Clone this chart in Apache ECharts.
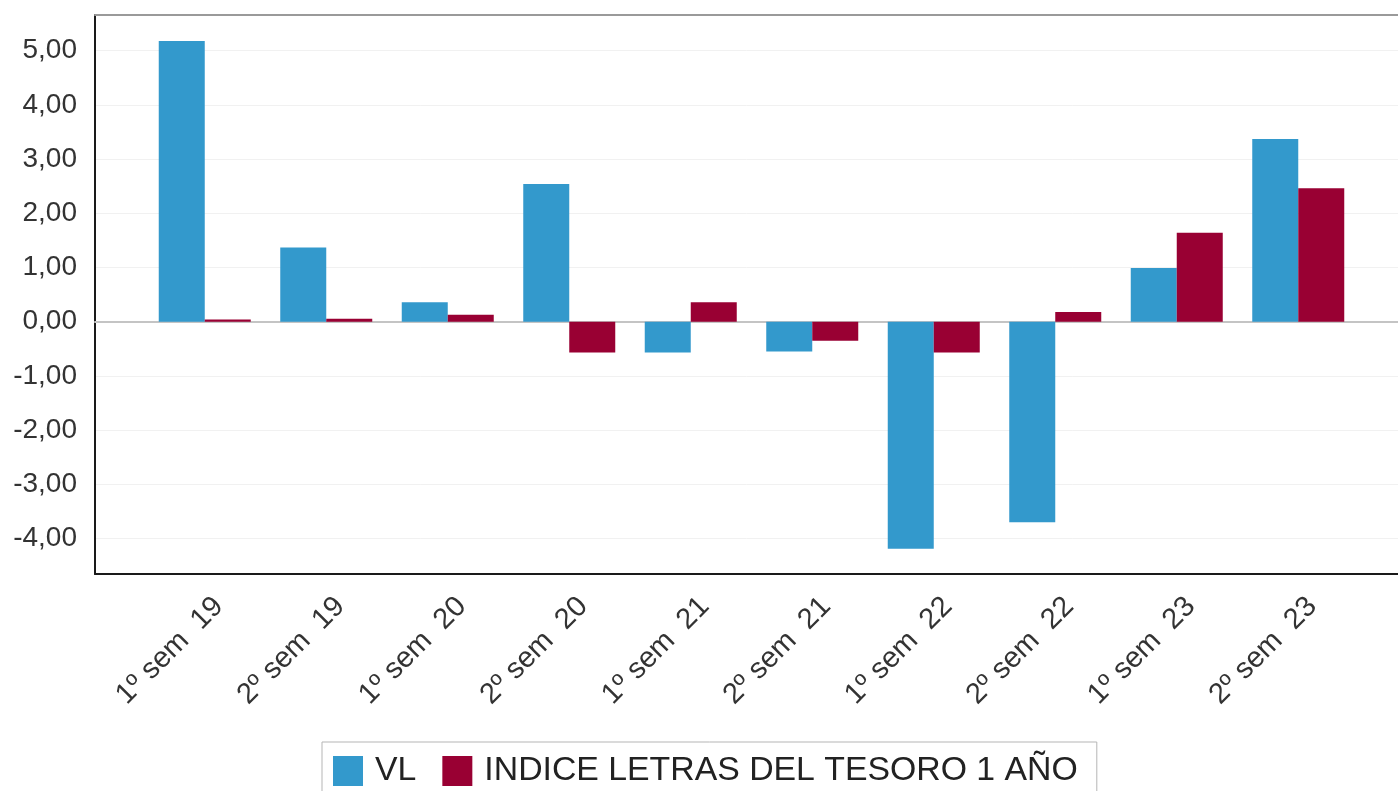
<!DOCTYPE html>
<html>
<head>
<meta charset="utf-8">
<script src="https://cdn.jsdelivr.net/npm/echarts@6/dist/echarts.min.js"></script>
<style>
html,body{margin:0;padding:0;background:#fff;}
#chart{width:1398px;height:791px;}
</style>
</head>
<body>
<div id="chart"></div>
<script>
const categories = ['1º sem  19','2º sem  19','1º sem  20','2º sem  20','1º sem  21','2º sem  21','1º sem  22','2º sem  22','1º sem  23','2º sem  23'];
const vlValues = [5.18, 1.37, 0.36, 2.54, -0.57, -0.55, -4.19, -3.70, 0.99, 3.37];
const letrasValues = [0.04, 0.055, 0.13, -0.57, 0.36, -0.35, -0.57, 0.18, 1.64, 2.46];
const seriesNames = ['VL', 'INDICE LETRAS DEL TESORO 1 AÑO'];
const yTickMin = -5, yTickMax = 5.6587, yTickStep = 1;
const dataMin = -4.655, dataMax = 5.6587;

const FONT = "'Liberation Sans', Arial, sans-serif";
const chart = echarts.init(document.getElementById('chart'), null, {renderer: 'canvas'});

const fmt = v => v.toFixed(2).replace('.', ',');

chart.setOption({
  backgroundColor: '#fff',
  animation: false,
  textStyle: {fontFamily: FONT},
  grid: [
    // 0: value grid for y labels, split lines and zero line (full width)
    {left: 95, right: 0, top: 15, bottom: 198.3},
    // 1: frame
    {left: 95, right: -5, top: 15, bottom: 217},
    // 2: data grid (category band area)
    {left: 144, right: 39, top: 15, bottom: 217},
    // 3: category label placement
    {left: 158, right: 25, top: 15, bottom: 217}
  ],
  xAxis: [
    {gridIndex: 0, type: 'value', min: 0, max: 1,
      axisLine: {show: true, onZero: true, lineStyle: {color: '#c4c4c4', width: 2}},
      axisTick: {show: false}, axisLabel: {show: false}, splitLine: {show: false}},
    {gridIndex: 1, type: 'value', min: 0, max: 1, position: 'bottom',
      axisLine: {show: true, onZero: false, lineStyle: {color: '#1a1a1a', width: 2}},
      axisTick: {show: false}, axisLabel: {show: false}, splitLine: {show: false}},
    {gridIndex: 1, type: 'value', min: 0, max: 1, position: 'top',
      axisLine: {show: true, onZero: false, lineStyle: {color: '#9a9a9a', width: 2}},
      axisTick: {show: false}, axisLabel: {show: false}, splitLine: {show: false}},
    {gridIndex: 2, type: 'category', data: categories,
      axisLine: {show: false}, axisTick: {show: false}, axisLabel: {show: false}},
    {gridIndex: 3, type: 'category', data: categories,
      axisLine: {show: false, onZero: false}, axisTick: {show: false},
      axisLabel: {rotate: 45, margin: 28, fontSize: 29, color: '#333', fontFamily: FONT, interval: 0}}
  ],
  yAxis: [
    {gridIndex: 0, type: 'value', min: yTickMin, max: yTickMax, interval: yTickStep,
      axisLine: {show: false}, axisTick: {show: false},
      axisLabel: {fontSize: 28, color: '#333', margin: 18, fontFamily: FONT,
        showMinLabel: false, showMaxLabel: false, formatter: fmt},
      splitLine: {show: true, showMinLine: false, showMaxLine: false, lineStyle: {color: '#f1f1f1', width: 1}}},
    {gridIndex: 1, type: 'value', min: 0, max: 1,
      axisLine: {show: true, onZero: false, lineStyle: {color: '#1a1a1a', width: 2}},
      axisTick: {show: false}, axisLabel: {show: false}, splitLine: {show: false}},
    {gridIndex: 2, type: 'value', min: dataMin, max: dataMax, show: false},
    {gridIndex: 3, type: 'value', min: 0, max: 1, show: false}
  ],
  legend: {
    left: 322, top: 742,
    padding: [12, 19, 14, 11],
    borderColor: '#b5b5b5', borderWidth: 1,
    itemWidth: 30, itemHeight: 30, itemGap: 26,
    icon: 'rect',
    textStyle: {fontSize: 33.8, color: '#222', fontFamily: FONT, padding: [0, 0, 0, 7]},
    data: seriesNames
  },
  series: [
    {name: seriesNames[0], type: 'bar', xAxisIndex: 3, yAxisIndex: 2,
      data: vlValues, barWidth: 46, barGap: '0%',
      itemStyle: {color: '#3399cc'}},
    {name: seriesNames[1], type: 'bar', xAxisIndex: 3, yAxisIndex: 2,
      data: letrasValues, barWidth: 46, barGap: '0%',
      itemStyle: {color: '#990033'}}
  ]
});
</script>
</body>
</html>
